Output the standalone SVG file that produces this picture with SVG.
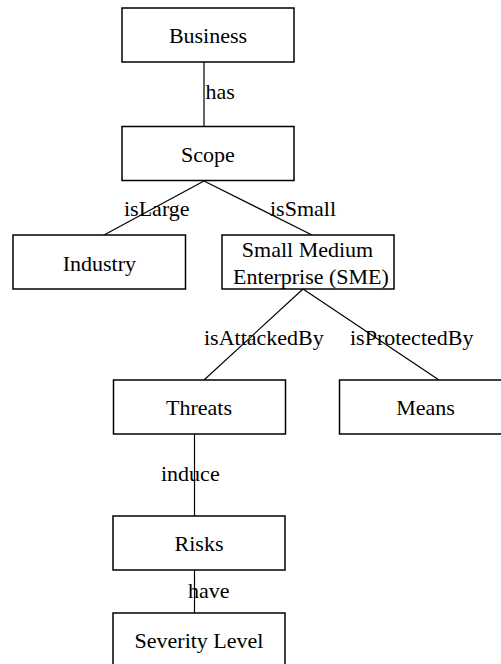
<svg xmlns="http://www.w3.org/2000/svg" width="501" height="664" viewBox="0 0 501 664">
  <style>
    .box { fill: #fff; stroke: #000; stroke-width: 1.5; }
    .edge { stroke: #000; stroke-width: 1.2; fill: none; }
    text { font-family: "Liberation Serif", "Times New Roman", serif; font-size: 22px; fill: #000; }
    .node text { text-anchor: middle; }
  </style>
  <rect width="501" height="664" fill="#fff"/>

  <!-- relations between concepts -->
  <g id="connectors">
    <line class="edge" x1="204" y1="62" x2="204" y2="126"/>
    <line class="edge" x1="204" y1="181" x2="104" y2="235"/>
    <line class="edge" x1="204" y1="181" x2="312" y2="235"/>
    <line class="edge" x1="303" y1="289" x2="204" y2="380"/>
    <line class="edge" x1="303" y1="289" x2="439" y2="380"/>
    <line class="edge" x1="194.5" y1="434" x2="194.5" y2="516"/>
    <line class="edge" x1="194.5" y1="570" x2="194.5" y2="613"/>
    <text x="205.5" y="98.5">has</text>
    <text x="124" y="216">isLarge</text>
    <text x="270" y="216">isSmall</text>
    <text x="204" y="345">isAttackedBy</text>
    <text x="350" y="345">isProtectedBy</text>
    <text x="161" y="480.5">induce</text>
    <text x="188" y="598">have</text>
  </g>

  <!-- concepts -->
  <g id="business" class="node">
    <rect class="box" x="122" y="8" width="172" height="54"/>
    <text x="208" y="43">Business</text>
  </g>
  <g id="scope" class="node">
    <rect class="box" x="122" y="126.5" width="172" height="54"/>
    <text x="208" y="161.5">Scope</text>
  </g>
  <g id="industry" class="node">
    <rect class="box" x="13" y="235" width="172.5" height="54"/>
    <text x="99.3" y="270.5">Industry</text>
  </g>
  <g id="sme" class="node">
    <rect class="box" x="222" y="235" width="172" height="54"/>
    <text x="307.5" y="256.5">Small Medium</text>
    <text x="311" y="284">Enterprise (SME)</text>
  </g>
  <g id="threats" class="node">
    <rect class="box" x="113.5" y="380" width="172" height="54"/>
    <text x="199" y="415">Threats</text>
  </g>
  <g id="means" class="node">
    <rect class="box" x="339.5" y="380" width="172" height="54"/>
    <text x="425.5" y="415">Means</text>
  </g>
  <g id="risks" class="node">
    <rect class="box" x="113" y="516" width="172" height="54"/>
    <text x="199" y="550.5">Risks</text>
  </g>
  <g id="severity" class="node">
    <rect class="box" x="113" y="613" width="172" height="60"/>
    <text x="199" y="648">Severity Level</text>
  </g>
</svg>
